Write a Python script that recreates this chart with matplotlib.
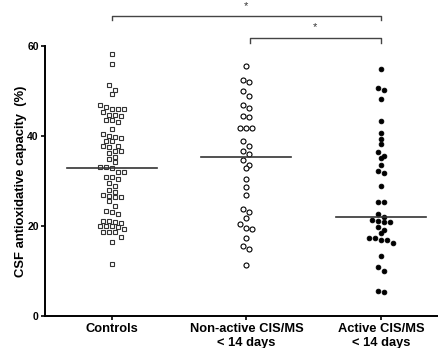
import numpy as np
import matplotlib
matplotlib.use('Agg')
import matplotlib.pyplot as plt

plt.rcParams['font.family'] = ['Liberation Sans', 'DejaVu Sans']

groups = ['Controls', 'Non-active CIS/MS\n< 14 days', 'Active CIS/MS\n< 14 days']

controls = [58.2, 56.0, 51.4, 50.3, 49.3,
            46.0, 46.0, 46.6, 46.9, 45.4, 46.0,
            44.6, 44.6, 44.4, 43.6, 43.1, 43.5, 41.6,
            40.4, 39.9, 40.0, 39.0, 39.5, 39.0,
            37.6, 37.9, 37.7, 36.7, 36.7, 36.2,
            35.3, 35.0, 34.2, 33.2, 33.0, 33.2,
            32.1, 32.1, 31.0, 31.0, 30.4, 29.6, 28.9, 28.0, 27.6,
            26.7, 26.4, 26.5, 26.8, 25.5, 24.4, 23.3, 22.6, 23.0,
            21.2, 20.8, 20.0, 20.0, 20.0, 19.8, 19.4, 20.7, 21.1,
            18.6, 18.6, 18.6, 17.5, 16.4, 11.5]
non_active = [55.7, 52.5, 52.1, 50.0, 49.0, 46.9, 46.2, 44.3, 44.5,
              41.9, 41.9, 41.9, 39.0, 37.9, 36.7, 36.0, 34.7, 33.6, 33.0,
              30.4, 28.6, 26.9, 23.8, 23.0, 21.8, 19.6, 19.4, 20.4,
              17.2, 15.5, 14.8, 11.4]
active = [54.9, 50.2, 50.7, 48.2, 43.4, 40.8, 38.2, 39.4, 36.5, 35.2, 35.5,
          33.6, 31.7, 32.3, 29.0, 25.3, 25.4, 22.7,
          22.0, 20.9, 21.2, 21.3, 20.9, 19.7, 19.2, 18.4,
          17.2, 16.9, 16.3, 16.9, 17.2, 13.4, 10.8, 10.0, 5.2, 5.6]
medians = [32.9, 35.4, 22.0]

fig = plt.figure(figsize=(4.38, 3.48), dpi=100)
ax = fig.add_axes([0.1027, 0.0928, 0.8973, 0.774])
ax.set_xlim(-0.495, 2.422)
ax.set_ylim(0, 60)

# pixel scales, used to lay the points out like a Prism scatter
ax_w_px = 0.8973 * 438
ax_h_px = 0.774 * 348
x_per_px = (2.422 + 0.495) / ax_w_px
y_per_px = 60 / ax_h_px


def swarm(vals, step_px=6.0, row_px=5.0):
    vals = sorted(vals, reverse=True)
    xs, ys = [], []
    row = []
    for v in vals + [None]:
        if row and (v is None or (row[0] - v) / y_per_px > row_px):
            n = len(row)
            for i, rv in enumerate(row):
                xs.append((i - (n - 1) / 2) * step_px * x_per_px)
                ys.append(rv)
            row = []
        if v is not None:
            row.append(v)
    return np.array(xs), np.array(ys)


styles = [dict(marker='s', mfc='white', mec='#333333', ms=3.4, mew=0.8),
          dict(marker='o', mfc='white', mec='black', ms=3.6, mew=0.8),
          dict(marker='o', mfc='black', mec='black', ms=3.4, mew=0.6)]

for i, (vals, st) in enumerate(zip([controls, non_active, active], styles)):
    dx, yy = swarm(vals)
    ax.plot(i + dx, yy, linestyle='none', **st)
    ax.plot([i - 0.334, i + 0.334], [medians[i], medians[i]], color='#333333', lw=1.2)

# significance brackets
bk = '#444444'
ax.plot([0, 0, 2, 2], [65.8, 66.8, 66.8, 65.8], color=bk, lw=1.0, clip_on=False)
ax.text(1, 69.0, '*', ha='center', va='center', fontsize=8, color='#333333')
ax.plot([1.03, 1.03, 2.0, 2.0], [60.8, 61.8, 61.8, 60.8], color=bk, lw=1.0, clip_on=False)
ax.text(1.51, 64.3, '*', ha='center', va='center', fontsize=8, color='#333333')

ax.spines['top'].set_visible(False)
ax.spines['right'].set_visible(False)
ax.spines['left'].set_linewidth(1.4)
ax.spines['bottom'].set_linewidth(1.4)

ax.set_yticks([0, 20, 40, 60])
ax.set_xticks([0, 1, 2])
ax.set_xticklabels(groups, fontsize=9.3, fontweight='bold', linespacing=1.3)
ax.tick_params(axis='y', labelsize=7.5, length=3, width=1.2, pad=1.5)
ax.tick_params(axis='x', length=3, width=1.2, pad=2)
for lab in ax.get_yticklabels():
    lab.set_fontweight('bold')

ax.set_ylabel('CSF antioxidative capacity  (%)', fontsize=9.4, fontweight='bold')
ax.yaxis.set_label_coords(-0.046, 0.5)

fig.savefig('out.png', dpi=100)
